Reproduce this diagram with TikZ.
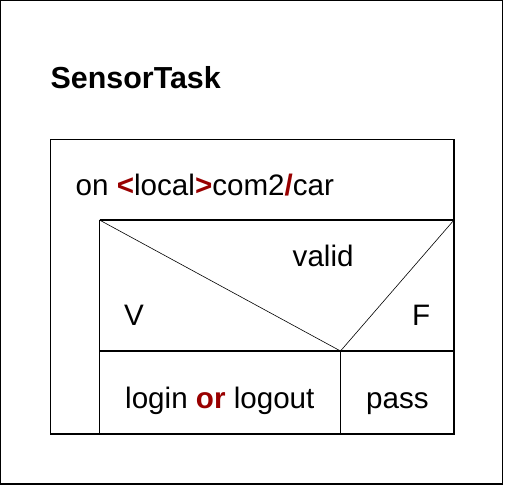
\documentclass[tikz,border=0pt]{standalone}
\usepackage{fontspec}
\setmainfont{Liberation Sans}
\definecolor{kw}{HTML}{990000}
\begin{document}
\begin{tikzpicture}[x=1pt,y=-1pt,
  frame/.style={draw=black,line width=1.1pt},
  diag/.style={draw=black,line width=0.6pt},
  lbl/.style={anchor=base west,inner sep=0pt,font=\fontsize{29.6}{34}\selectfont},
  kwd/.style={text=kw}]
\useasboundingbox (0,0) rectangle (505,485);
\fill[white] (0,0) rectangle (505,485);
% outer frame
\draw[frame] (0.6,0.6) rectangle (502.4,484);
% coordinates
\coordinate (boxtl) at (50.7,139.5);
\coordinate (boxbr) at (454,434);
\coordinate (dtl) at (99.5,220);
\coordinate (dtr) at (454,220);
\coordinate (dbl) at (99.5,351);
\coordinate (dbr) at (454,351);
\coordinate (vtx) at (340.5,351);
\coordinate (vbot) at (340.5,434);
\coordinate (lbot) at (99.5,434);
% shapes
\draw[frame] (boxtl) rectangle (boxbr);
\draw[frame] (dtl) -- (dtr);
\draw[frame] (dtl) -- (lbot);
\draw[frame] (dbl) -- (dbr);
\draw[frame] (vtx) -- (vbot);
\draw[diag] (dtl) -- (vtx);
\draw[diag] (dtr) -- (vtx);
% texts
\node[lbl,font=\fontsize{30.4}{35}\selectfont\bfseries] (title) at (50.5,88.5) {SensorTask};
\node[lbl] (event) at (75.5,195) {on \textcolor{kw}{\bfseries <}local\textcolor{kw}{\bfseries >}com2\textcolor{kw}{\bfseries /}car};
\node[lbl] (cond) at (292.5,266.5) {valid};
\node[lbl] (tv) at (124,325.5) {V};
\node[lbl] (tf) at (412,325.5) {F};
\node[lbl] (act) at (125,408) {login \textcolor{kw}{\bfseries or} logout};
\node[lbl] (pass) at (366,408) {pass};
\end{tikzpicture}
\end{document}
